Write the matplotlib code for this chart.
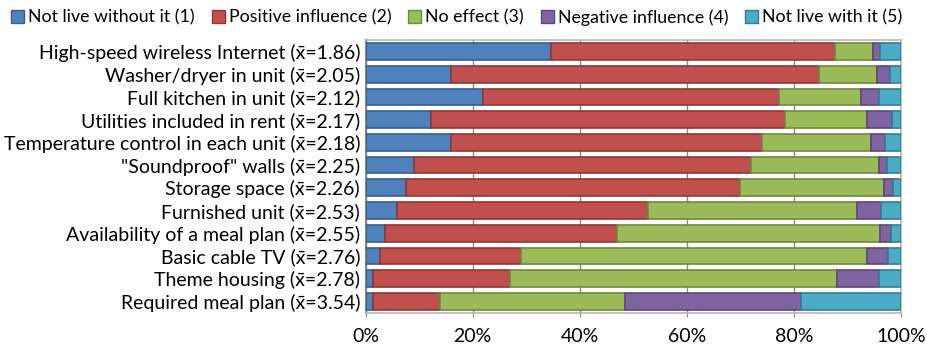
import numpy as np
import matplotlib.pyplot as plt
from matplotlib.patches import Patch

# Share of responses (%) per amenity, ordered top to bottom
amenities = [
    "High-speed wireless Internet (x\u0304=1.86)",
    "Washer/dryer in unit (x\u0304=2.05)",
    "Full kitchen in unit (x\u0304=2.12)",
    "Utilities included in rent (x\u0304=2.17)",
    "Temperature control in each unit (x\u0304=2.18)",
    "\"Soundproof\" walls (x\u0304=2.25)",
    "Storage space (x\u0304=2.26)",
    "Furnished unit (x\u0304=2.53)",
    "Availability of a meal plan (x\u0304=2.55)",
    "Basic cable TV (x\u0304=2.76)",
    "Theme housing (x\u0304=2.78)",
    "Required meal plan (x\u0304=3.54)",
]
not_live_without = [34.6, 15.9, 21.9, 12.3, 15.9, 9.0, 7.6, 5.8, 3.6, 2.7, 1.3, 1.3]
positive = [53.0, 68.8, 55.3, 66.0, 58.2, 63.0, 62.4, 46.9, 43.3, 26.3, 25.7, 12.6]
no_effect = [7.2, 10.8, 15.4, 15.4, 20.3, 23.9, 26.8, 39.0, 49.1, 64.7, 61.0, 34.6]
negative = [1.3, 2.5, 3.2, 4.7, 2.6, 1.4, 1.7, 4.5, 2.2, 3.8, 7.9, 32.9]
not_live_with = [3.9, 2.0, 4.2, 1.6, 3.0, 2.7, 1.5, 3.8, 1.8, 2.5, 4.1, 18.6]

series = [
    ("Not live without it (1)", not_live_without, "#4F81BD", "#385D8A"),
    ("Positive influence (2)", positive, "#C0504D", "#8C3836"),
    ("No effect (3)", no_effect, "#9BBB59", "#71893F"),
    ("Negative influence (4)", negative, "#8064A2", "#5C4776"),
    ("Not live with it (5)", not_live_with, "#4BACC6", "#357D91"),
]

plt.rcParams["font.family"] = ["Lato", "DejaVu Sans"]

fig = plt.figure(figsize=(9.27, 3.49), dpi=100)
ax = fig.add_axes([0.3944, 0.104, 0.5776, 0.781])

y = np.arange(len(amenities))
left = np.zeros(len(amenities))
handles = []
for name, vals, color, edge in series:
    vals = np.array(vals)
    ax.barh(y, vals, left=left, height=0.74, color=color, edgecolor=edge,
            linewidth=1.2, zorder=3)
    left += vals
    handles.append(Patch(facecolor=color, edgecolor=edge, linewidth=1.0, label=name))

ax.set_xlim(0, 100)
ax.set_ylim(len(amenities) - 0.5, -0.5)
ax.set_yticks(y)
ax.set_yticklabels(amenities, fontsize=14)
ax.set_xticks(np.arange(0, 101, 20))
ax.set_xticklabels([f"{v}%" for v in range(0, 101, 20)], fontsize=14)
ax.tick_params(axis="y", length=0, pad=4)
ax.tick_params(axis="x", length=3, color="#888888", direction="out", pad=8)
ax.grid(axis="x", color="#888888", linewidth=1.0, zorder=0)
for side in ["top", "right", "bottom"]:
    ax.spines[side].set_color("#b8b8b8")
    ax.spines[side].set_linewidth(1.2)
ax.spines["left"].set_color("#888888")
ax.spines["left"].set_linewidth(1.5)

fig.legend(handles=handles, loc="center left", bbox_to_anchor=(11 / 927, 1 - 17.5 / 349),
           ncol=5, frameon=False, fontsize=12.8, handlelength=0.73, handleheight=0.73,
           handletextpad=0.23, columnspacing=0.95, borderaxespad=0, borderpad=0)

fig.savefig("out.png", dpi=100)
